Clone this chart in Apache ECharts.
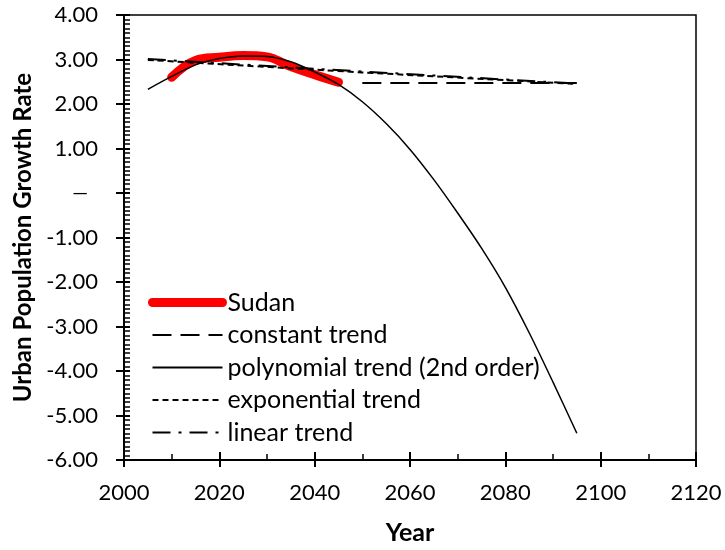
<!DOCTYPE html>
<html>
<head>
<meta charset="utf-8">
<script src="https://cdn.jsdelivr.net/npm/echarts@6/dist/echarts.min.js"></script>
<style>
  html, body { margin: 0; padding: 0; background: #fff; }
  #chart { width: 725px; height: 550px; }
</style>
</head>
<body>
<div id="chart"></div>
<script>
// ---- data ----
const sudanYears = [2010, 2015, 2020, 2025, 2030, 2035, 2040, 2045];
const sudanValues = [2.60, 2.98, 3.05, 3.09, 3.06, 2.84, 2.66, 2.49];

const constYears = [2050, 2095];
const constValues = [2.47, 2.47];

const polyYears = [2005, 2010, 2015, 2020, 2025, 2030, 2035, 2040, 2045, 2050, 2055, 2060, 2065, 2070, 2075, 2080, 2085, 2090, 2095];
const polyValues = [2.33, 2.62, 2.88, 3.02, 3.08, 3.07, 2.95, 2.72, 2.44, 2.05, 1.56, 0.98, 0.30, -0.45, -1.24, -2.12, -3.14, -4.25, -5.40];

const expYears = [2005, 2050, 2095];
const expValues = [2.99, 2.71, 2.45];

const linYears = [2005, 2050, 2095];
const linValues = [3.01, 2.73, 2.46];

const seriesNames = ['Sudan', 'constant trend', 'polynomial trend (2nd order)', 'exponential trend', 'linear trend'];
const xTitle = 'Year';
const yTitle = 'Urban Population Growth Rate';

function pairs(xs, ys) { return xs.map((x, i) => [x, ys[i]]); }

const FONT = 'Lato';
const chart = echarts.init(document.getElementById('chart'), null, { renderer: 'canvas' });

const xBase = { type: 'value', min: 2000, max: 2120, interval: 20, gridIndex: 0 };
const yBase = { type: 'value', min: -6, max: 4, interval: 1, gridIndex: 0 };

chart.setOption({
  animation: false,
  backgroundColor: '#fff',
  grid: { left: 124, right: 29, top: 15, bottom: 90, show: true, borderColor: '#000', borderWidth: 1.5, backgroundColor: 'transparent' },
  legend: {
    orient: 'vertical',
    left: 148,
    top: 290,
    padding: 0,
    itemWidth: 70,
    itemHeight: 14,
    itemGap: 7.5,
    itemStyle: { opacity: 0 },
    textStyle: { fontFamily: FONT, fontSize: 25, color: '#000', lineHeight: 24 },
    data: [
      { name: seriesNames[0], lineStyle: { width: 9, cap: 'round', color: '#ff0000' } },
      seriesNames[1], seriesNames[2], seriesNames[3], seriesNames[4]
    ]
  },
  xAxis: [
    Object.assign({}, xBase, {
      position: 'bottom',
      name: xTitle, nameLocation: 'middle', nameGap: 60,
      nameTextStyle: { fontFamily: FONT, fontSize: 25, fontWeight: 'bold', color: '#000' },
      axisLine: { show: true, onZero: false, lineStyle: { color: '#000', width: 2 } },
      axisTick: { show: true, inside: false, length: 7, lineStyle: { color: '#000', width: 2 } },
      axisLabel: { fontFamily: FONT, fontSize: 22, color: '#000', margin: 22, formatter: v => String(v) },
      splitLine: { show: false }
    }),
    Object.assign({}, xBase, {
      position: 'bottom',
      axisLine: { show: false, onZero: false },
      axisTick: { show: true, inside: true, length: 8, lineStyle: { color: '#000', width: 2 } },
      minorTick: { show: true, splitNumber: 2, length: 6, lineStyle: { color: '#000', width: 1.5 } },
      axisLabel: { show: false },
      splitLine: { show: false }
    })
  ],
  yAxis: [
    Object.assign({}, yBase, {
      position: 'left',
      name: yTitle, nameLocation: 'middle', nameGap: 79, nameRotate: 90,
      nameTextStyle: { fontFamily: FONT, fontSize: 24, fontWeight: 'bold', color: '#000' },
      axisLine: { show: true, onZero: false, lineStyle: { color: '#000', width: 2 } },
      axisTick: { show: true, inside: false, length: 8, lineStyle: { color: '#000', width: 2 } },
      axisLabel: {
        fontFamily: FONT, fontSize: 22, color: '#000', margin: 26,
        formatter: v => v === 0 ? '{z|—}' : v.toFixed(2),
        rich: { z: { fontFamily: FONT, fontSize: 20, color: '#000', padding: [0, 10, 0, 0] } }
      },
      splitLine: { show: false }
    }),
    Object.assign({}, yBase, {
      position: 'left',
      axisLine: { show: false, onZero: false },
      axisTick: { show: true, inside: true, length: 6, lineStyle: { color: '#000', width: 2 } },
      minorTick: { show: true, splitNumber: 10, length: 6, lineStyle: { color: '#000', width: 1.5 } },
      axisLabel: { show: false },
      splitLine: { show: false }
    })
  ],
  series: [
    {
      name: seriesNames[0], type: 'line', xAxisIndex: 0, yAxisIndex: 0,
      data: pairs(sudanYears, sudanValues), smooth: 0.4, symbol: 'none', showSymbol: false, z: 1,
      lineStyle: { color: '#ff0000', width: 9, cap: 'round', join: 'round' },
      itemStyle: { color: '#ff0000', opacity: 0 }
    },
    {
      name: seriesNames[1], type: 'line', xAxisIndex: 0, yAxisIndex: 0,
      data: pairs(constYears, constValues), symbol: 'none', showSymbol: false, z: 3,
      lineStyle: { color: '#000', width: 2, type: [19, 9] },
      itemStyle: { color: '#000', opacity: 0 }
    },
    {
      name: seriesNames[2], type: 'line', xAxisIndex: 0, yAxisIndex: 0,
      data: pairs(polyYears, polyValues), smooth: 0.3, symbol: 'none', showSymbol: false, z: 3,
      lineStyle: { color: '#000', width: 1.5 },
      itemStyle: { color: '#000', opacity: 0 }
    },
    {
      name: seriesNames[3], type: 'line', xAxisIndex: 0, yAxisIndex: 0,
      data: pairs(expYears, expValues), smooth: 0.3, symbol: 'none', showSymbol: false, z: 3,
      lineStyle: { color: '#000', width: 2, type: [6, 4] },
      itemStyle: { color: '#000', opacity: 0 }
    },
    {
      name: seriesNames[4], type: 'line', xAxisIndex: 0, yAxisIndex: 0,
      data: pairs(linYears, linValues), symbol: 'none', showSymbol: false, z: 3,
      lineStyle: { color: '#000', width: 2, type: [18, 8, 3, 8] },
      itemStyle: { color: '#000', opacity: 0 }
    }
  ]
});
</script>
</body>
</html>
